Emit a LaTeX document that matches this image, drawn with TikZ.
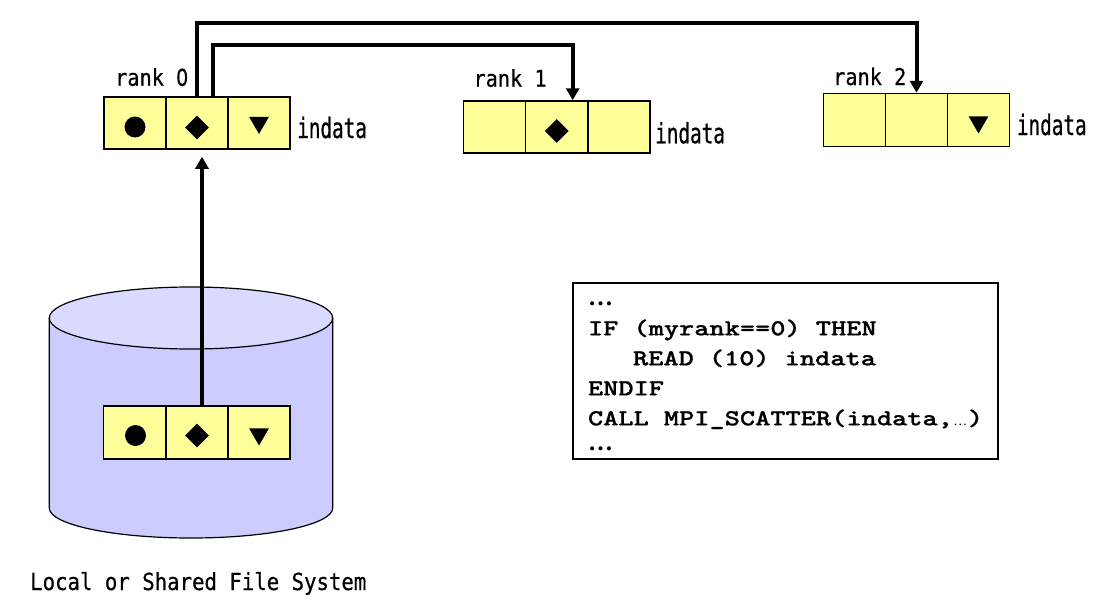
\documentclass[tikz,border=0pt]{standalone}
\usepackage{fontspec}
\usetikzlibrary{arrows.meta,shapes.geometric}
\newfontfamily\lblfont[FakeStretch=0.88,FakeBold=0.5]{DejaVu Sans Mono}
\newfontfamily\lbldigit[FakeStretch=0.83,FakeBold=0.5]{DejaVu Sans}
\newfontfamily\indfont[FakeStretch=0.69,FakeBold=0.5]{DejaVu Sans Mono}
\newfontfamily\codefont[FakeStretch=1.26,FakeBold=0.8]{lmmonolt10-bold.otf}
\newfontfamily\ellfont{Liberation Serif}
\newcommand\csp{\hspace*{15pt}}
\definecolor{cellyellow}{RGB}{255,255,153}
\definecolor{drumtop}{RGB}{218,218,255}
\definecolor{drumbody}{RGB}{204,204,255}
\begin{document}
\begin{tikzpicture}[x=1pt,y=-1pt,
  cell/.style={draw, line width=1.5pt, fill=cellyellow, minimum width=62pt, minimum height=52pt, inner sep=0pt},
  dot/.style={circle, fill=black, minimum size=21pt, inner sep=0pt},
  gem/.style={diamond, fill=black, minimum size=24pt, inner sep=0pt},
  tri/.style={regular polygon, regular polygon sides=3, shape border rotate=180, fill=black, minimum size=23pt, inner sep=0pt},
  lbl/.style={font=\lblfont\fontsize{23}{23}\selectfont, inner sep=0pt, anchor=base west},
  ind/.style={font=\indfont\fontsize{28}{28}\selectfont, inner sep=0pt, anchor=base west},
  conn/.style={line width=4pt, line join=miter, -{Triangle[length=12pt,width=13pt]}}
]
\useasboundingbox (0,0) rectangle (1112,608);
\fill[white] (0,0) rectangle (1112,608);

% file system drum
\path[fill=drumbody, draw, line width=1.2pt] (49.3,318) -- (49.3,508)
  arc[start angle=180, end angle=360, x radius=141.7pt, y radius=30pt] -- (332.7,318);
\filldraw[fill=drumtop, line width=1.2pt] (191,318) ellipse[x radius=141.7pt, y radius=31pt];

% rank 0
\node[cell] (r0a) at (135,123) {};
\node[cell] (r0b) at (197,123) {};
\node[cell] (r0c) at (259,123) {};
\node[dot] (s0a) at (135,127) {};
\node[gem] (s0b) at (197,127.5) {};
\node[tri] (s0c) at (259,122.5) {};
\node[lbl] (rk0) at (115,85.7) {rank {\lbldigit 0}};
\node[ind] (in0) at (297,138) {indata};

% rank 1
\node[cell] (r1a) at (494.5,127) {};
\node[cell] (r1b) at (556.7,127) {};
\node[cell] (r1c) at (618.8,127) {};
\node[gem] (s1b) at (556.7,131) {};
\node[lbl] (rk1) at (473.3,86.7) {rank 1};
\node[ind] (in1) at (655,143.3) {indata};

% rank 2
\node[cell, minimum height=53pt] (r2a) at (854.3,120) {};
\node[cell, minimum height=53pt] (r2b) at (916.5,120) {};
\node[cell, minimum height=53pt] (r2c) at (978.3,120) {};
\node[tri] (s2c) at (978.5,122) {};
\node[lbl] (rk2) at (833,85) {rank 2};
\node[ind] (in2) at (1016.7,135) {indata};

% data in the file system
\node[cell, minimum height=53pt] (d0a) at (134.7,432.7) {};
\node[cell, minimum height=53pt] (d0b) at (197,432.7) {};
\node[cell, minimum height=53pt] (d0c) at (259,432.7) {};
\node[dot] (t0a) at (135.5,435.5) {};
\node[gem] (t0b) at (197,435.5) {};
\node[tri] (t0c) at (259,434) {};
\node[lbl, font=\lblfont\fontsize{23.5}{23.5}\selectfont] (fs) at (30,590) {Local or Shared File System};

% connectors
\coordinate (hiA) at (0,23);
\coordinate (hiB) at (0,45);
\draw[conn] (r0b.north) -- (r0b.north |- hiA) -| (r2b.north);
\draw[conn] ([xshift=16pt]r0b.north) -- ([xshift=16pt]r0b.north |- hiB) -| ([xshift=16pt]r1b.north);
\draw[conn, shorten >=7pt] ([xshift=5pt]d0b.north) -- ([xshift=5pt]r0b.south);

% code box
\node[draw, line width=1.2pt, fill=white, minimum width=425pt, minimum height=176pt,
      text width=395pt, align=left, inner xsep=15pt, inner ysep=0pt,
      font=\codefont\fontsize{23}{30}\selectfont] (code) at (785.5,371)
  {\vphantom{I}{\ellfont\bfseries\fontsize{25}{30}\selectfont …}\\
   IF\csp(myrank==0)\csp THEN\\
   \hspace*{45pt}READ\csp(10)\csp indata\\
   ENDIF\\
   CALL\csp MPI\_SCATTER(indata,\makebox[15pt]{\ellfont\fontsize{14}{14}\selectfont …})\\[-5pt]
   {\ellfont\bfseries\fontsize{25}{30}\selectfont …}};
\end{tikzpicture}
\end{document}
